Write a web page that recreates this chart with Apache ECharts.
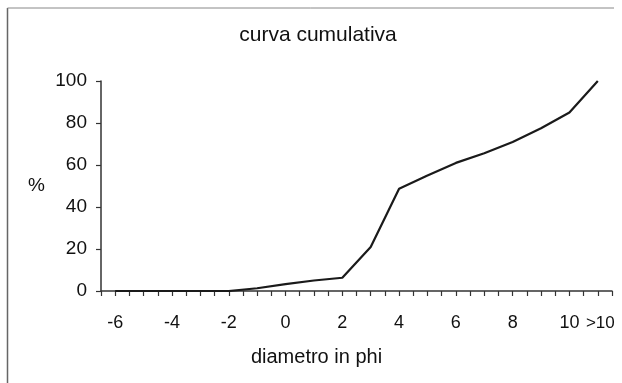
<!DOCTYPE html>
<html>
<head>
<meta charset="utf-8">
<script src="https://cdn.jsdelivr.net/npm/echarts@6/dist/echarts.min.js"></script>
<style>
  html, body { margin: 0; padding: 0; background: #fff; }
  #chart { width: 622px; height: 383px; }
</style>
</head>
<body>
<div id="chart"></div>
<script>
// Cumulative grain-size curve (phi scale)
const phi = [-6, -5, -4, -3, -2, -1, 0, 1, 2, 3, 4, 5, 6, 7, 8, 9, 10, 11];
const cumulative = [0, 0, 0, 0, 0, 1.3, 3.3, 5, 6.3, 21, 48.7, 55, 61, 65.6, 71, 77.5, 85, 100];

// Labelled positions on the phi axis; the last class is open-ended
const xLabelValues = [-6, -4, -2, 0, 2, 4, 6, 8, 10, 11];
const xLabelTexts = ['-6', '-4', '-2', '0', '2', '4', '6', '8', '10', '>10'];

const yTicks = [0, 20, 40, 60, 80, 100];

const FONT = 'Liberation Sans, Arial, sans-serif';
const chart = echarts.init(document.getElementById('chart'));

chart.setOption({
  animation: false,
  backgroundColor: '#fff',
  title: {
    text: 'curva cumulativa',
    left: 313,
    top: 20,
    textAlign: 'center',
    textStyle: { fontFamily: FONT, fontSize: 21, fontWeight: 'normal', color: '#111' }
  },
  grid: { left: 101, right: 10, top: 81, bottom: 92 },
  xAxis: {
    type: 'value',
    min: -6.5,
    max: 11.5,
    interval: 0.5,
    name: 'diametro in phi',
    nameLocation: 'middle',
    nameGap: 56,
    nameTextStyle: { fontFamily: FONT, fontSize: 20, color: '#111', padding: [0, 80, 0, 0] },
    axisLine: { show: true, onZero: false, lineStyle: { color: '#333', width: 1.5 } },
    axisTick: { show: true, inside: false, length: 5, interval: 0, lineStyle: { color: '#333', width: 1.2 } },
    splitLine: { show: false },
    axisLabel: {
      margin: 22,
      fontFamily: FONT,
      fontSize: 18,
      lineHeight: 20,
      color: '#111',
      showMinLabel: true,
      showMaxLabel: true,
      rich: {
        open: { fontFamily: FONT, fontSize: 17, lineHeight: 20, color: '#111', padding: [0, 0, 0, 5] }
      },
      formatter: function (v) {
        const i = xLabelValues.findIndex(function (x) { return Math.abs(x - v) < 1e-6; });
        if (i < 0) return '';
        return i === xLabelValues.length - 1 ? '{open|' + xLabelTexts[i] + '}' : xLabelTexts[i];
      }
    }
  },
  yAxis: {
    type: 'value',
    min: yTicks[0],
    max: yTicks[yTicks.length - 1],
    interval: 20,
    name: '%',
    nameLocation: 'middle',
    nameRotate: 0,
    nameGap: 56,
    nameTextStyle: { fontFamily: FONT, fontSize: 19, color: '#111' },
    axisLine: { show: true, onZero: false, lineStyle: { color: '#333', width: 1.5 } },
    axisTick: { show: true, inside: false, length: 5, lineStyle: { color: '#333', width: 1.2 } },
    splitLine: { show: false },
    axisLabel: { margin: 14, fontFamily: FONT, fontSize: 19, color: '#111' }
  },
  series: [{
    type: 'line',
    data: phi.map(function (p, i) { return [p, cumulative[i]]; }),
    showSymbol: false,
    lineStyle: { color: '#1a1a1a', width: 2.2 },
    silent: true
  }],
  graphic: [
    // chart frame (left and top edges)
    { type: 'line', shape: { x1: 7.5, y1: 8, x2: 7.5, y2: 383 }, style: { stroke: '#666', lineWidth: 1.5 } },
    { type: 'line', shape: { x1: 7.5, y1: 8, x2: 614, y2: 8 }, style: { stroke: '#888', lineWidth: 1 } }
  ]
});
</script>
</body>
</html>
